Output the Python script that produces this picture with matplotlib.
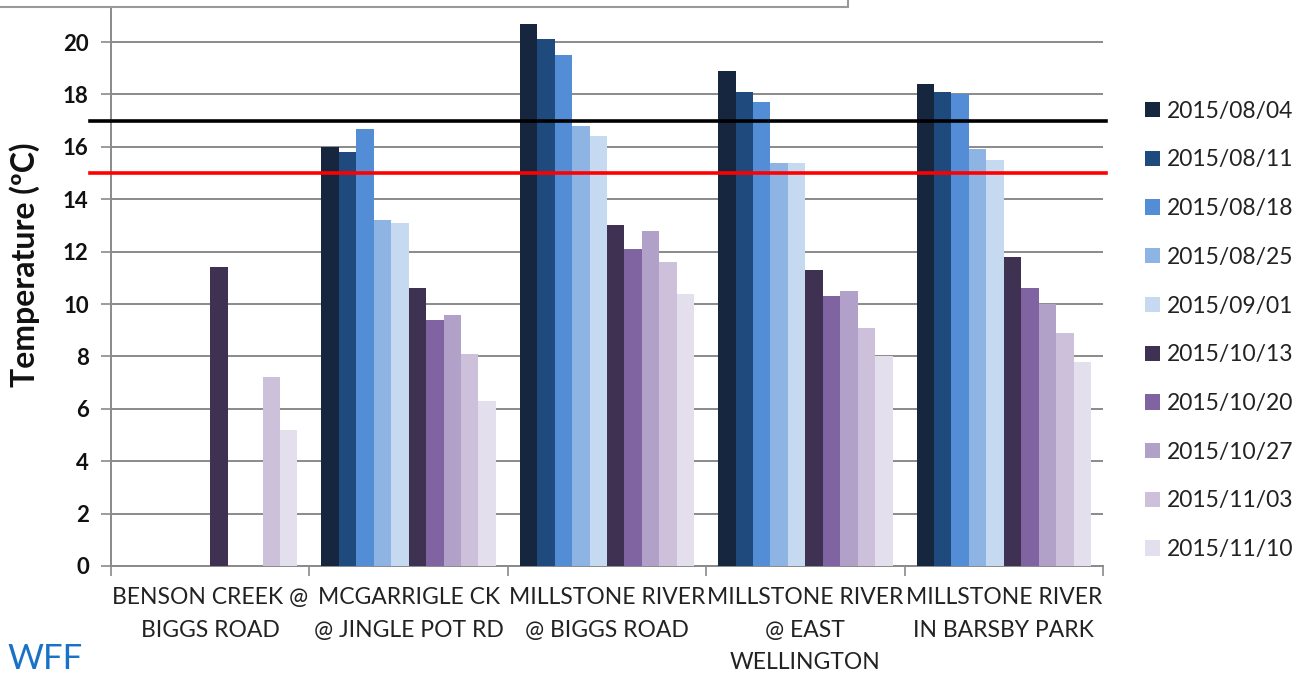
import numpy as np
import matplotlib
matplotlib.use("Agg")
import matplotlib.pyplot as plt
from matplotlib.patches import Rectangle, Patch
from matplotlib.transforms import blended_transform_factory

plt.rcParams['font.family'] = ['Lato', 'DejaVu Sans']

sites = ["BENSON CREEK @\nBIGGS ROAD",
         "MCGARRIGLE CK\n@ JINGLE POT RD",
         "MILLSTONE RIVER\n@ BIGGS ROAD",
         "MILLSTONE RIVER\n@ EAST\nWELLINGTON",
         "MILLSTONE RIVER\nIN BARSBY PARK"]

dates = ["2015/08/04", "2015/08/11", "2015/08/18", "2015/08/25", "2015/09/01",
         "2015/10/13", "2015/10/20", "2015/10/27", "2015/11/03", "2015/11/10"]

colors = ["#16263f", "#1f4a7e", "#538dd5", "#8db4e2", "#c5d9f1",
          "#3f3151", "#8064a2", "#b1a0c7", "#ccc0da", "#e4dfec"]

# temperature per site for each sampling date (None = not sampled)
t_0804 = [None, 16.0, 20.7, 18.9, 18.4]
t_0811 = [None, 15.8, 20.1, 18.1, 18.1]
t_0818 = [None, 16.7, 19.5, 17.7, 18.0]
t_0825 = [None, 13.2, 16.8, 15.4, 15.9]
t_0901 = [None, 13.1, 16.4, 15.4, 15.5]
t_1013 = [11.4, 10.6, 13.0, 11.3, 11.8]
t_1020 = [None, 9.4, 12.1, 10.3, 10.6]
t_1027 = [None, 9.6, 12.8, 10.5, 10.0]
t_1103 = [7.2, 8.1, 11.6, 9.1, 8.9]
t_1110 = [5.2, 6.3, 10.4, 8.0, 7.8]
series = [t_0804, t_0811, t_0818, t_0825, t_0901,
          t_1013, t_1020, t_1027, t_1103, t_1110]

upper_limit = 17
lower_limit = 15

W, H = 1306, 676
y_top = 21.3
fig = plt.figure(figsize=(W / 100, H / 100), dpi=100)
ax = fig.add_axes([111 / W, 1 - 566 / H, (1103 - 111) / W, (566 - 8) / H])

n = len(series)
group = 0.88
bw = group / n
x = np.arange(len(sites))
for i, (vals, c) in enumerate(zip(series, colors)):
    v = np.array([np.nan if a is None else a for a in vals], dtype=float)
    ax.bar(x - group / 2 + (i + 0.5) * bw, v, width=bw, color=c,
           edgecolor='none', zorder=3)

ax.set_xlim(-0.5, len(sites) - 0.5)
ax.set_ylim(0, y_top)
ax.set_yticks(np.arange(0, 21, 2))
ax.set_yticklabels([str(v) for v in range(0, 21, 2)],
                   fontsize=16, fontweight='bold', color='#111111')
ax.yaxis.grid(True, color='#8a8a8a', linewidth=1.4, zorder=0)
ax.set_axisbelow(True)
for s in ['top', 'right']:
    ax.spines[s].set_visible(False)
for s in ['left', 'bottom']:
    ax.spines[s].set_color('#8a8a8a')
    ax.spines[s].set_linewidth(1.4)
ax.tick_params(axis='y', length=7, width=1.2, color='#8a8a8a', pad=9)

ax.set_xticks(np.arange(-0.5, len(sites), 1.0))
ax.set_xticklabels([])
ax.tick_params(axis='x', length=7, width=1.2, color='#8a8a8a')
for i, name in enumerate(sites):
    ax.text(i, -0.8, name, ha='center', va='top', fontsize=16.5,
            color='#222222', linespacing=1.68)

ax.set_ylabel("Temperature (\u00baC)", fontsize=23, fontweight='bold',
              color='#111111')
ax.yaxis.set_label_coords(-0.0716, 0.54)

trans = blended_transform_factory(ax.transAxes, ax.transData)
ax.plot([-0.021, 1.003], [upper_limit, upper_limit], color='black', lw=2.6,
        transform=trans, clip_on=False, zorder=5)
ax.plot([-0.021, 1.003], [lower_limit, lower_limit], color='#ff0000', lw=2.6,
        transform=trans, clip_on=False, zorder=5)

handles = [Patch(facecolor=c, edgecolor='none') for c in colors]
fig.legend(handles, dates, loc='upper left', bbox_to_anchor=(1124 / W, 1 - 80 / H),
           frameon=False, fontsize=16.5, handlelength=0.65, handleheight=0.65,
           handletextpad=0.3, labelspacing=1.21, labelcolor='#222222')

fig.patches.append(Rectangle((-5 / W, 1 - 7 / H), 853 / W, 20 / H,
                             transform=fig.transFigure, fill=False,
                             edgecolor='#9a9a9a', linewidth=1.5))

fig.text(7 / W, 1 / H, "WFF", fontsize=25, color='#1a72c6',
         ha='left', va='bottom')

fig.savefig("out.png", dpi=100)
